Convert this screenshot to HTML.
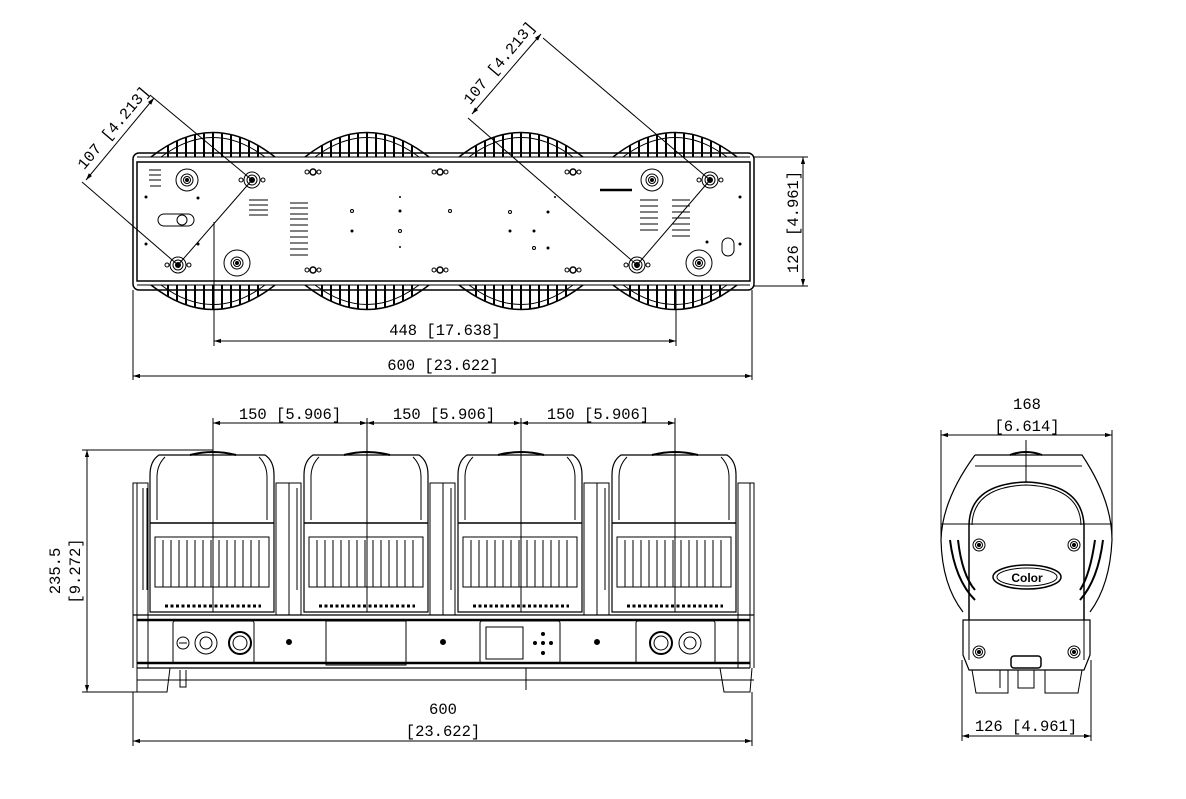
<!DOCTYPE html>
<html><head><meta charset="utf-8"><style>
html,body{margin:0;padding:0;background:#fff}
svg{display:block}
text{font-family:"Liberation Mono","DejaVu Sans Mono",monospace;font-size:15.5px;fill:#000;stroke:none}
</style></head><body>
<svg width="1186" height="799" viewBox="0 0 1186 799" xmlns="http://www.w3.org/2000/svg" fill="none" stroke="#000" stroke-width="1">
<defs>
<marker id="ar" viewBox="0 0 10 10" refX="10" refY="5" markerWidth="7" markerHeight="7" orient="auto-start-reverse"><path d="M0,2 L10,5 L0,8 z" fill="#000" stroke="none"/></marker>
<clipPath id="domeT"><path d="M-62,157 Q0,108 62,157 Z"/></clipPath>
<clipPath id="domeB"><path d="M-62,285 Q0,334 62,285 Z"/></clipPath>
<g id="fanT">
 <path d="M-62,157 Q0,108 62,157" stroke-width="1.5"/>
 <path d="M-52,157 Q0,118 52,157"/>
 <g clip-path="url(#domeT)" stroke-width="2">
  <path d="M-45,130V157M-36,130V157M-27,130V157M-18,130V157M-9,130V157M0,130V157M9,130V157M18,130V157M27,130V157M36,130V157M45,130V157"/>
 </g>
</g>
<g id="fanB">
 <path d="M-62,285 Q0,334 62,285" stroke-width="1.5"/>
 <path d="M-52,285 Q0,324 52,285"/>
 <g clip-path="url(#domeB)" stroke-width="2">
  <path d="M-45,285V312M-36,285V312M-27,285V312M-18,285V312M-9,285V312M0,285V312M9,285V312M18,285V312M27,285V312M36,285V312M45,285V312"/>
 </g>
</g>
<g id="mount"><circle r="8"/><circle r="5"/><circle r="2.5" fill="#000"/><circle cx="-11" r="2"/><circle cx="11" r="2"/></g>
<g id="bolt"><circle r="6"/><circle r="3.5"/><circle r="1.5" fill="#000"/></g>
<g id="trip"><circle cx="-6" r="2"/><circle r="3" stroke-width="1.5"/><circle cx="6" r="2"/></g>
<g id="head">
 <path d="M-63,612 V475 Q-63,461 -54,455 H52 Q61,461 61,475 V612 Z" stroke-width="1.2"/>
 <path d="M-56,520 V477 Q-56,465 -48,457"/><path d="M54,520 V477 Q54,465 46,457"/>
 <path d="M-63,523 H61" stroke-width="1.5"/>
 <path d="M-23,455 Q0,449 23,455" stroke-width="2"/>
 <rect x="-58" y="537" width="114" height="50"/>
 <path d="M-50,540V587M-42,540V587M-34,540V587M-26,540V587M-18,540V587M-10,540V587M-2,540V587M6,540V587M14,540V587M22,540V587M30,540V587M38,540V587M46,540V587"/>
 <path d="M-48,606H48" stroke-width="3" stroke-dasharray="3,2.5"/>
 <path d="M-70,488V590M-66,488V590" />
</g>
</defs>

<use href="#fanT" x="213"/><use href="#fanT" x="367"/><use href="#fanT" x="521"/><use href="#fanT" x="675"/>
<use href="#fanB" x="213"/><use href="#fanB" x="367"/><use href="#fanB" x="521"/><use href="#fanB" x="675"/>
<rect x="133" y="153" width="621" height="137" rx="6" stroke-width="1.5"/>
<rect x="137" y="162" width="613" height="119" stroke-width="1.5"/>
<path d="M137,157H750M137,285H750"/>
<use href="#mount" x="252" y="180"/><use href="#mount" x="178" y="265"/>
<use href="#mount" x="710" y="180"/><use href="#mount" x="637" y="265"/>
<use href="#bolt" x="187" y="180"/><use href="#bolt" x="237" y="263"/>
<use href="#bolt" x="652" y="180"/><use href="#bolt" x="699" y="263"/>
<circle cx="187" cy="180" r="11"/><circle cx="237" cy="263" r="13"/><circle cx="652" cy="180" r="11"/><circle cx="699" cy="263" r="13"/>
<use href="#trip" x="313" y="172"/><use href="#trip" x="313" y="270"/><use href="#trip" x="440" y="172"/><use href="#trip" x="440" y="270"/>
<use href="#trip" x="573" y="172"/><use href="#trip" x="573" y="270"/>
<path d="M149,170H161M149,175H161M149,180H161M150,186H161"/>
<path d="M249,200H268M249,205H268M249,210H268M249,215H268"/>
<path d="M290,203H308M290,208H308M290,214H308M290,219H308M290,225H308M290,231H308M290,237H308M290,243H308M290,249H308M290,255H308"/>
<path d="M640,200H658M640,206H658M640,212H658M640,218H658M640,224H658M640,230H658"/>
<path d="M672,200H690M672,206H690M672,212H690M672,218H690M672,224H690M672,230H690M672,236H690"/>
<path d="M600,190H632" stroke-width="2.5"/>
<rect x="158" y="214" width="36" height="12" rx="6"/><circle cx="182" cy="220" r="5"/>
<rect x="722" y="238" width="12" height="18" rx="6"/>
<g fill="#000" stroke="none"><circle cx="146" cy="197" r="1.5"/><circle cx="198" cy="198" r="1.5"/><circle cx="146" cy="244" r="1.5"/><circle cx="198" cy="244" r="1.5"/><circle cx="400" cy="211" r="1.5"/><circle cx="352" cy="231" r="1.5"/><circle cx="400" cy="197" r="1"/><circle cx="400" cy="247" r="1"/><circle cx="510" cy="231" r="1.5"/><circle cx="548" cy="212" r="1.5"/><circle cx="534" cy="231" r="1.5"/><circle cx="548" cy="248" r="1.5"/><circle cx="555" cy="197" r="1"/><circle cx="740" cy="197" r="1.5"/><circle cx="740" cy="244" r="1.5"/><circle cx="707" cy="242" r="1.5"/></g>
<circle cx="352" cy="211" r="1.5"/><circle cx="400" cy="231" r="1.5"/><circle cx="450" cy="211" r="1.5"/><circle cx="510" cy="212" r="1.5"/><circle cx="534" cy="248" r="1.5"/>
<path d="M754,157H808M754,286H808"/>
<path d="M803,157V286" marker-start="url(#ar)" marker-end="url(#ar)"/>
<text transform="translate(798,222) rotate(-90)" text-anchor="middle">126 [4.961]</text>
<path d="M214,290V346M676,290V346"/>
<path d="M214,341H676" marker-start="url(#ar)" marker-end="url(#ar)"/>
<text x="445" y="335" text-anchor="middle">448 [17.638]</text>
<path d="M133,290V380M752,290V380"/>
<path d="M133,376H752" marker-start="url(#ar)" marker-end="url(#ar)"/>
<text x="443" y="370" text-anchor="middle">600 [23.622]</text>
<path d="M252,180L150,95M178,265L82,182M214,222V290"/>
<path d="M86,180L154,98" marker-start="url(#ar)" marker-end="url(#ar)"/>
<text transform="translate(117,131) rotate(-50)" text-anchor="middle">107 [4.213]</text>
<path d="M710,180L543,38M637,265L468,118"/>
<path d="M472,114L541,34" marker-start="url(#ar)" marker-end="url(#ar)"/>
<text transform="translate(503,66) rotate(-50)" text-anchor="middle">107 [4.213]</text>
<path d="M178,265L252,180M637,265L710,180"/>

<use href="#head" x="213"/><use href="#head" x="367"/><use href="#head" x="521"/><use href="#head" x="675"/>
<path d="M133,668V483H148V668M137,483V668"/>
<path d="M276,615V483H301V615M289,483V615"/>
<path d="M430,615V483H455V615M443,483V615"/>
<path d="M584,615V483H609V615M597,483V615"/>
<path d="M738,668V483H754V668M750,483V668"/>
<path d="M133,615H754M137,668H750" stroke-width="1.2"/>
<path d="M137,620H750M137,663H750" stroke-width="2.5"/>
<rect x="173" y="621" width="81" height="42" rx="2"/>
<circle cx="183" cy="643" r="6"/><path d="M179,643H187"/>
<circle cx="206" cy="643" r="11"/><circle cx="206" cy="643" r="6"/>
<circle cx="240" cy="643" r="11" stroke-width="2"/><circle cx="240" cy="643" r="7"/>
<circle cx="289" cy="642" r="2.5" fill="#000"/><circle cx="443" cy="642" r="2.5" fill="#000"/><circle cx="597" cy="642" r="2.5" fill="#000"/>
<rect x="326" y="621" width="80" height="44"/>
<rect x="480" y="621" width="80" height="42" rx="2"/>
<rect x="486" y="627" width="37" height="32"/>
<g fill="#000" stroke="none"><circle cx="543" cy="634" r="2"/><circle cx="535" cy="643" r="2"/><circle cx="543" cy="643" r="2"/><circle cx="551" cy="643" r="2"/><circle cx="543" cy="653" r="2"/></g>
<rect x="636" y="621" width="79" height="42" rx="2"/>
<circle cx="661" cy="643" r="11" stroke-width="2"/><circle cx="661" cy="643" r="7"/>
<circle cx="690" cy="643" r="11"/><circle cx="690" cy="643" r="6"/>
<path d="M137,668V680H754M137,692H167L170,668M720,668L724,692H750L752,668"/>
<path d="M137,670V692M180,670V687H186V670M526,668V690"/>
<path d="M213,418V612M367,418V612M521,418V612M675,418V612"/>
<path d="M213,423H367" marker-start="url(#ar)" marker-end="url(#ar)"/>
<path d="M367,423H521" marker-start="url(#ar)" marker-end="url(#ar)"/>
<path d="M521,423H675" marker-start="url(#ar)" marker-end="url(#ar)"/>
<text x="290" y="419" text-anchor="middle">150 [5.906]</text>
<text x="444" y="419" text-anchor="middle">150 [5.906]</text>
<text x="598" y="419" text-anchor="middle">150 [5.906]</text>
<path d="M82,450H213M82,692H137"/>
<path d="M87,450V692" marker-start="url(#ar)" marker-end="url(#ar)"/>
<text transform="translate(60,571) rotate(-90)" text-anchor="middle">235.5</text>
<text transform="translate(80,571) rotate(-90)" text-anchor="middle">[9.272]</text>
<path d="M133,692V746M752,692V746"/>
<path d="M133,741H752" marker-start="url(#ar)" marker-end="url(#ar)"/>
<text x="443" y="714" text-anchor="middle">600</text>
<text x="443" y="736" text-anchor="middle">[23.622]</text>

<path d="M975,455H1082Q1112,500 1112,540Q1110,585 1090,612" stroke-width="1.2"/>
<path d="M975,455Q942,500 941,540Q942,585 963,612" stroke-width="1.2"/>
<path d="M941,524H1112M975,466H1082"/>
<path d="M950,540Q955,580 975,600M958,540Q962,575 975,590M1103,540Q1098,580 1080,600M1095,540Q1090,575 1080,590" stroke-width="2"/>
<path d="M1010,455Q1026,449 1042,455" stroke-width="2"/>
<path d="M969,620V525Q970,484 1026,482Q1082,484 1084,525V620" stroke-width="1.5"/>
<path d="M972,525Q973,487 1026,485Q1080,487 1081,525"/>
<path d="M963,620V655L969,670H1084L1090,655V620Z" stroke-width="1.2"/>
<path d="M969,615V660M1084,615V660"/>
<use href="#bolt" x="979" y="545"/><use href="#bolt" x="1074" y="545"/><use href="#bolt" x="979" y="652"/><use href="#bolt" x="1074" y="652"/>
<ellipse cx="1027" cy="577" rx="34" ry="12" stroke-width="1.5"/><ellipse cx="1027" cy="577" rx="30" ry="9"/>
<text x="1027" y="582" text-anchor="middle" style="font-size:12px;font-weight:bold;font-family:'Liberation Sans',sans-serif">Color</text>
<rect x="1011" y="656" width="30" height="12" rx="3" stroke-width="1.5"/>
<path d="M972,670L976,693H1008V670M1045,670V693H1078L1082,670M1018,670V688H1034V670M1000,670V688"/>
<path d="M941,430V540M1112,430V540M1026,440V482"/>
<path d="M941,435H1112" marker-start="url(#ar)" marker-end="url(#ar)"/>
<text x="1027" y="409" text-anchor="middle">168</text>
<text x="1027" y="431" text-anchor="middle">[6.614]</text>
<path d="M962,660V741M1091,660V741"/>
<path d="M962,736H1091" marker-start="url(#ar)" marker-end="url(#ar)"/>
<text x="1026" y="731" text-anchor="middle">126 [4.961]</text>
</svg>
</body></html>
